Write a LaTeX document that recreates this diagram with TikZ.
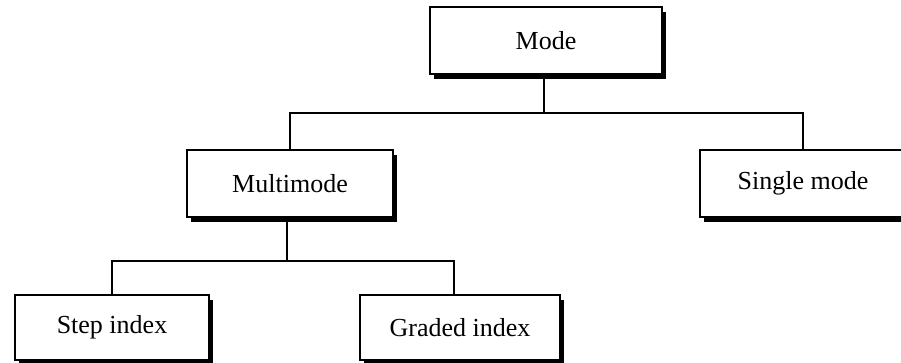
\documentclass[tikz,border=0pt]{standalone}
\usepackage{fontspec}
\setmainfont{Liberation Serif}
\usetikzlibrary{shadows}
\begin{document}
\begin{tikzpicture}[x=1pt,y=-1pt,
  box/.style={draw=black, line width=1.6pt, fill=white, inner sep=0pt,
    font=\fontsize{26}{30}\selectfont,
    drop shadow={shadow xshift=4pt, shadow yshift=-4.5pt, fill=black, opacity=1}},
  link/.style={draw=black, line width=2pt}]
\useasboundingbox[fill=white] (0,0) rectangle (901,362);
\node[box, minimum width=232pt, minimum height=67pt] (mode) at (546,40.5) {Mode};
\node[box, minimum width=206pt, minimum height=67pt] (mm) at (290,183.5) {Multimode};
\node[box, minimum width=206pt, minimum height=67pt] (sm) at (803,183.5) {Single mode};
\node[box, minimum width=194pt, minimum height=65pt] (si) at (112,327.5) {Step index};
\node[box, minimum width=200pt, minimum height=65pt] (gi) at (460,327.5) {Graded index};
\coordinate (j1) at (544,113);
\coordinate (j2) at (287,261);
\coordinate (gtop) at (454,295);
\draw[link] (mode.south -| j1) -- (j1);
\draw[link] (mm.north) |- (j1) -| (sm.north);
\draw[link] (mm.south -| j2) ++(0,4.5) -- (j2);
\draw[link] (si.north) |- (j2) -| (gtop);
\end{tikzpicture}
\end{document}
